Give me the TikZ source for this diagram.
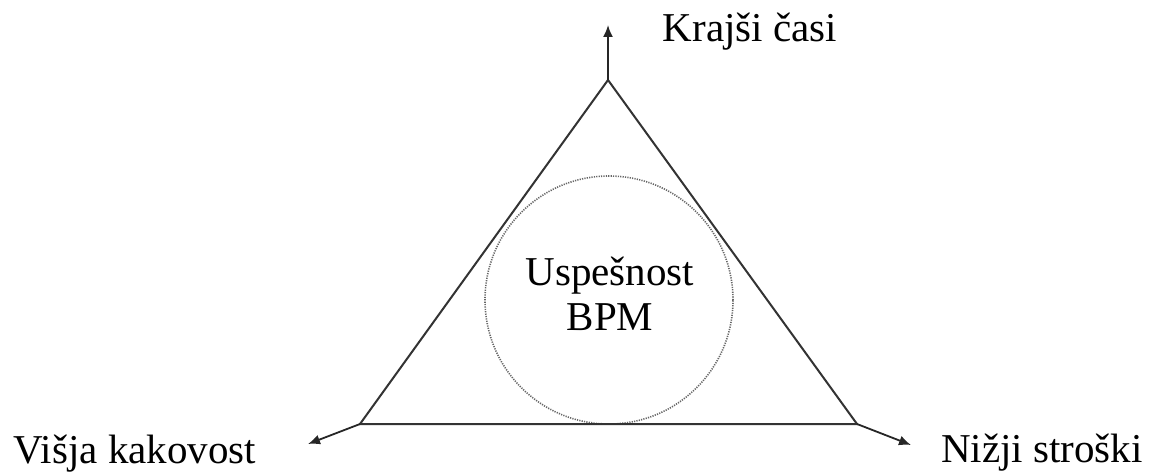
\documentclass[tikz,border=0pt]{standalone}
\usepackage{fontspec}
\setmainfont{Liberation Serif}
\usepackage{tikz}
\usetikzlibrary{arrows.meta, positioning}

\begin{document}
\begin{tikzpicture}[
      x=1pt, y=1pt,
      edge/.style={draw=black!80, line width=2pt},
      arr/.style={draw=black!85, line width=1.8pt, -{Latex[length=12pt,width=10pt]}},
      goal/.style={font=\fontsize{41}{45}\selectfont, inner sep=0pt, anchor=base},
      core/.style={circle, draw=black!60, dash pattern=on 1.2pt off 1.2pt, line width=1.6pt, minimum size=248pt, inner sep=0pt}
    ]
    \useasboundingbox (0,0) rectangle (1154,472);
    \coordinate (top) at (608,392);
    \coordinate (left) at (360,48);
    \coordinate (right) at (857,48);
    \coordinate (topend) at (608,447);
    \coordinate (leftend) at (308,28);
    \coordinate (rightend) at (911,27);

    \node[core] (bpm) at (609,172) {};
    \node[font=\fontsize{41}{45}\selectfont, align=center, inner sep=0pt] (label) at (610,178) {Uspešnost\\BPM};

    \node[goal] (time) at (750,430) {Krajši časi};
    \node[goal] (quality) at (135,9) {Višja kakovost};
    \node[goal] (cost) at (1042,10) {Nižji stroški};

    \draw[edge] (top) -- (left) -- (right) -- cycle;
    \draw[arr] (top) -- (topend);
    \draw[arr] (left) -- (leftend);
    \draw[arr] (right) -- (rightend);
  \end{tikzpicture}
\end{document}
